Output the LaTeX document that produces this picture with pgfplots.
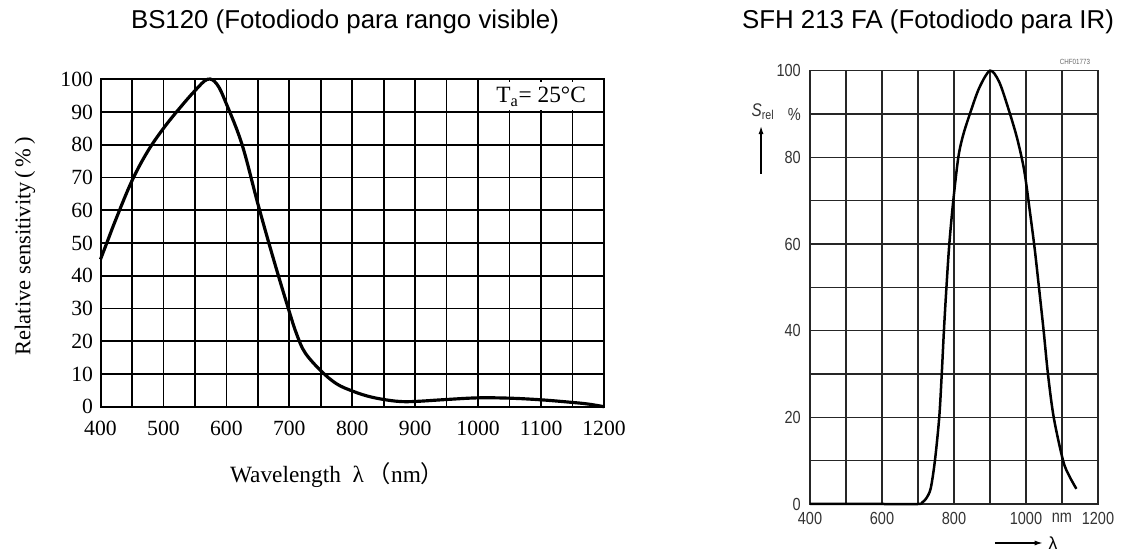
\documentclass[border=0pt]{standalone}
\usepackage{fontspec}
\setmainfont{Liberation Serif}
\newfontfamily\sans{Liberation Sans}
\newfontfamily\narrow[FakeStretch=0.83]{Liberation Sans}
\newfontfamily\cjk{Noto Sans CJK SC}
\usepackage{pgfplots}
\pgfplotsset{compat=1.18}
\usetikzlibrary{arrows.meta}
\pgfplotstableread{
x y
400 45
410 50
425 57.5
450 69
475 78
500 85
525 91
550 96.5
570 100
585 98.5
600 92.5
625 80
650 62
675 45
700 29
712 22
725 16.5
750 11
775 7
800 4.8
825 3.2
850 2.2
875 1.6
900 1.6
950 2.2
1000 2.7
1050 2.6
1100 2.1
1150 1.3
1175 0.8
1200 0
}\bsdata
\pgfplotstableread{
x y
400 0
500 0
600 0
700 0
712 0.4
722 1.2
735 3.5
747 10
759 20
766 30
772 40
779 50
787 60
798 70
812 80
825 85
844 90
870 96
900 100
925 97.5
950 91.5
975 84.5
995 77
1010 68
1024 59
1036 50
1049 40
1061 30
1077 20
1103 10
1120 6.5
1140 3.5
}\sfhdata
\begin{document}
\begin{tikzpicture}[x=1pt,y=1pt]
\path (0,0) rectangle (680.4,330);
\node[font=\sans\fontsize{15.5}{16}\selectfont] at (207,316.8) {BS120 (Fotodiodo para rango visible)};
\node[font=\sans\fontsize{15.5}{16}\selectfont] at (556.8,316.8) {SFH 213 FA (Fotodiodo para IR)};
\begin{axis}[
  at={(60.3pt,85.98pt)}, anchor=south west, scale only axis,
  width=302.1pt, height=196.44pt,
  xmin=400, xmax=1200, ymin=0, ymax=100,
  xtick={400,450,...,1200},
  xticklabels={400,,500,,600,,700,,800,,900,,1000,,1100,,1200},
  ytick={0,10,...,100},
  /pgf/number format/assume math mode=true,
  ticklabel style={font=\fontsize{13}{13}\selectfont},
  xticklabel style={anchor=center, yshift=-13pt},
  yticklabel style={anchor=east, xshift=-1pt},
  major tick length=0pt,
  grid=major,
  major grid style={black, line width=1pt},
  axis line style={black, line width=1.2pt},
  clip=false,
]
\addplot[black, line width=1.9pt, smooth, tension=0.6] table[x=x,y=y] {\bsdata};
\fill[white] (axis cs:1006,90.7) rectangle (axis cs:1197,99.3);
\node[font=\fontsize{14}{14}\selectfont] at (axis cs:1100,94.6) {T\textsubscript{a}= 25°C};
\node[font=\fontsize{13.5}{14}\selectfont, rotate=90] at (rel axis cs:-0.15,0.49) {Relative sensitivity\,(\,\%\,)};
\node[font=\fontsize{14}{14}\selectfont] at (rel axis cs:0.47,-0.209) {Wavelength\ \ λ\,{\cjk （}nm{\cjk ）}};
\end{axis}
\begin{axis}[
  at={(486pt,27.6pt)}, anchor=south west, scale only axis,
  width=172.8pt, height=260pt,
  xmin=400, xmax=1200, ymin=0, ymax=100,
  xtick={400,500,...,1200},
  xticklabels={400,,600,,800,,1000,nm,1200},
  ytick={0,10,...,100},
  yticklabels={0,,20,,40,,60,,80,\%,100},
  ticklabel style={font=\narrow\fontsize{10.5}{10.5}\selectfont, text=black!80},
  xticklabel style={anchor=center, yshift=-8.5pt},
  yticklabel style={anchor=east, xshift=-2pt},
  major tick length=0pt,
  grid=major,
  major grid style={black!85, line width=0.9pt},
  axis line style={black!85, line width=0.9pt},
  clip=false,
]
\addplot[black, line width=1.5pt, smooth, tension=0.5] table[x=x,y=y] {\sfhdata};
\node[font=\narrow\fontsize{11}{11}\selectfont, text=black!80] at (rel axis cs:-0.163,0.905) {\itshape S\textsubscript{\upshape rel}};
\draw[-{Latex[length=5pt,width=3pt]}, line width=0.9pt] (rel axis cs:-0.17,0.762) -- (rel axis cs:-0.17,0.873);
\draw[-{Latex[length=5pt,width=3pt]}, line width=0.9pt] (rel axis cs:0.642,-0.09) -- (rel axis cs:0.809,-0.09);
\node[font=\sans\fontsize{10.5}{10.5}\selectfont] at (rel axis cs:0.844,-0.09) {λ};
\node[font=\narrow\fontsize{4.5}{4.5}\selectfont, text=black!60] at (rel axis cs:0.92,1.021) {CHF01773};
\end{axis}
\end{tikzpicture}
\end{document}
